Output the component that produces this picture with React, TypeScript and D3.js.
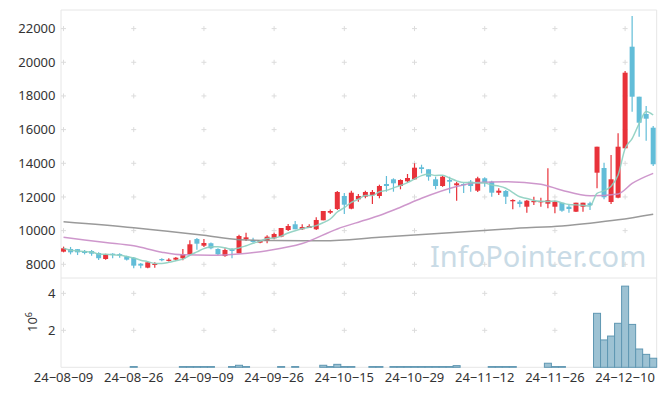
import React from 'react';
import * as d3 from 'd3';

const dates = [
  '24-08-09','24-08-12','24-08-13','24-08-14','24-08-16','24-08-19','24-08-20','24-08-21','24-08-22','24-08-23',
  '24-08-26','24-08-27','24-08-28','24-08-29','24-08-30','24-09-02','24-09-03','24-09-04','24-09-05','24-09-06',
  '24-09-09','24-09-10','24-09-11','24-09-12','24-09-13','24-09-19','24-09-20','24-09-23','24-09-24','24-09-25',
  '24-09-26','24-09-27','24-09-30','24-10-02','24-10-04','24-10-07','24-10-08','24-10-10','24-10-11','24-10-14',
  '24-10-15','24-10-16','24-10-17','24-10-18','24-10-21','24-10-22','24-10-23','24-10-24','24-10-25','24-10-28',
  '24-10-29','24-10-30','24-10-31','24-11-01','24-11-04','24-11-05','24-11-06','24-11-07','24-11-08','24-11-11',
  '24-11-12','24-11-13','24-11-14','24-11-15','24-11-18','24-11-19','24-11-20','24-11-21','24-11-22','24-11-25',
  '24-11-26','24-11-27','24-11-28','24-11-29','24-12-02','24-12-03','24-12-04','24-12-05','24-12-06','24-12-09',
  '24-12-10','24-12-11','24-12-12','24-12-13','24-12-16'
];

const opens = [
  8750,8910,8900,8790,8790,8670,8315,8630,8600,8475,
  8390,8035,7800,7960,8315,8200,8275,8356,8594,9500,
  9105,9250,8910,8490,8890,8653,9485,9440,9283,9384,
  9545,9640,10037,10376,10080,10156,10080,10614,11066,11285,
  12057,11303,11861,12015,12100,12057,12770,13049,12651,12930,
  13049,13762,13643,13049,12651,13007,12693,12770,12906,12372,
  13108,12906,12253,12354,11742,11718,11421,11700,11680,11600,
  11421,11659,11421,11124,11421,11623,13441,13720,11700,11956,
  14890,20925,17955,16928,16114
];
const highs = [
  9050,9030,8910,8850,8850,8710,8630,8650,8650,8510,
  8430,8080,8160,8120,8360,8360,8430,8910,9426,9560,
  9500,9300,8950,8950,8950,9758,9877,9580,9443,9720,
  9877,10156,10394,10572,10376,10376,10790,11166,11250,12354,
  12235,12370,12176,12372,12413,12728,13245,13108,13049,13364,
  14000,13916,13643,13203,13250,13203,12906,12811,13007,13200,
  13168,12966,12514,12413,11861,11820,11820,12015,11956,13702,
  11778,11659,11522,11659,11659,11718,14985,14035,14492,15781,
  19482,22749,17955,17403,16215
];
const lows = [
  8710,8590,8550,8590,8510,8255,8270,8360,8390,8230,
  7760,7760,7760,7800,8180,8160,8230,8240,8550,8867,
  9030,8890,8550,8450,8356,8653,9384,9283,9250,9250,
  9485,9600,9980,10080,10037,10156,10037,10614,10990,11225,
  10988,11267,11718,11920,11582,11920,12312,12312,12455,12847,
  13007,13405,12966,12455,12600,12217,11778,12235,12312,12300,
  12610,12015,12116,11582,11267,11386,11065,11522,11421,11326,
  11030,11124,11065,11107,11124,11225,12514,11861,11582,11920,
  14890,17064,15580,15342,13840
];
const closes = [
  8950,8710,8710,8670,8630,8360,8590,8550,8550,8275,
  7920,7920,8120,8035,8240,8275,8390,8594,9188,9224,
  9265,8950,8594,8850,8790,9680,9600,9325,9443,9640,
  9800,10156,10275,10080,10216,10275,10632,11166,11166,12295,
  11540,12253,12057,12295,12295,12651,12651,12811,13007,13126,
  13738,13661,13203,12651,13203,12906,12811,12693,12651,13108,
  12847,12253,12372,12015,11820,11582,11778,11760,11760,11802,
  11718,11184,11285,11659,11659,11505,14985,11980,13049,14985,
  19381,17955,16411,16649,13940
];
const volumes = [
  0,0,0,0,0,0,0,0,0,0,
  40000,0,0,0,0,0,0,40000,40000,40000,
  40000,40000,0,0,40000,110000,40000,0,0,0,
  0,40000,0,40000,0,0,0,110000,40000,160000,
  40000,40000,0,0,40000,40000,0,40000,40000,40000,
  40000,40000,40000,40000,40000,40000,90000,0,0,0,
  0,40000,40000,40000,40000,0,0,0,0,220000,
  40000,40000,0,0,0,0,2920000,1480000,1690000,2380000,
  4390000,2320000,990000,700000,490000
];

// moving averages (index, value)
const ma20Index = [0, 6, 10, 14, 17, 21, 25, 29, 34, 39, 43, 45, 48, 51, 56, 59, 63, 68, 71, 75, 79, 81, 84];
const ma20Value = [9600, 9300, 9100, 8720, 8560, 8540, 8615, 8810, 9230, 10100, 10630, 10900, 11390, 11920, 12620, 12860, 12910, 12760, 12400, 12070, 12180, 12800, 13400];
const ma60Index = [0, 10, 20, 25, 30, 37, 45, 55, 65, 71, 75, 79, 84];
const ma60Value = [10530, 10175, 9720, 9460, 9410, 9400, 9600, 9870, 10150, 10280, 10440, 10640, 10975];

const priceTicks = [8000, 10000, 12000, 14000, 16000, 18000, 20000, 22000];
const volTicks = [2000000, 4000000];
const volTickLabels = ['2', '4'];
const tickEvery = 10;

const W = 665, H = 396;
const left = 61, right = 656.7, top = 10, mid = 278, bottom = 367.3;
const FONT = '"Noto Sans", "Open Sans", sans-serif';

export default function App() {
  const n = dates.length;
  const x = d3.scaleLinear().domain([-0.36, n - 0.5]).range([left, right]);
  const step = x(1) - x(0);
  const y = d3.scaleLinear().domain([7186, 23105]).range([mid, top]);
  const yv = d3.scaleLinear().domain([0, 4830000]).range([bottom, mid]);

  const ma5 = closes.map((_, i) => {
    const s = closes.slice(Math.max(0, i - 4), i + 1);
    return d3.mean(s) as number;
  });

  const lineIdx = d3.line<number>().x((_, i) => x(i)).y(v => y(v)).curve(d3.curveMonotoneX);
  const ptsLine = d3.line<[number, number]>().x(d => x(d[0])).y(d => y(d[1])).curve(d3.curveMonotoneX);
  const ma20Pts = ma20Index.map((k, j) => [k, ma20Value[j]] as [number, number]);
  const ma60Pts = ma60Index.map((k, j) => [k, ma60Value[j]] as [number, number]);

  const tickIdx = d3.range(0, n, tickEvery);
  const gridColor = '#dcdcdc';
  const cross = (cx: number, cy: number, key: string) => (
    <g key={key} stroke={gridColor} strokeWidth={1}>
      <line x1={cx - 2.5} x2={cx + 2.5} y1={cy} y2={cy} />
      <line x1={cx} x2={cx} y1={cy - 2.5} y2={cy + 2.5} />
    </g>
  );

  const up = '#e8323a';
  const down = '#62bdd8';
  const bodyW = 5;

  return (
    <svg width={W} height={H} style={{ position: 'absolute', left: 0, top: 0, background: '#fff' }} fontFamily={FONT}>
      {/* frame */}
      <g stroke="#e6e6e6" strokeWidth={1} fill="none">
        <line x1={left} x2={right} y1={top} y2={top} />
        <line x1={left} x2={right} y1={mid} y2={mid} />
        <line x1={left} x2={right} y1={bottom} y2={bottom} />
        <line x1={left} x2={left} y1={top} y2={bottom} />
        <line x1={right} x2={right} y1={top} y2={bottom} />
      </g>
      {/* grid crosses */}
      {tickIdx.map(i => priceTicks.map(p => cross(x(i), y(p), `p${i}-${p}`)))}
      {tickIdx.map(i => volTicks.map(v => cross(x(i), yv(v), `v${i}-${v}`)))}

      {/* watermark */}
      <text x={430} y={267} fontSize={29} fill="#c9dbe6">InfoPointer.com</text>

      {/* price axis labels */}
      {priceTicks.map(p => (
        <text key={p} x={55.5} y={y(p)} dy="0.35em" textAnchor="end" fontSize={13} fill="#333">{p}</text>
      ))}
      {volTicks.map((v, j) => (
        <text key={v} x={55.5} y={yv(v)} dy="0.35em" textAnchor="end" fontSize={13} fill="#333">{volTickLabels[j]}</text>
      ))}
      <text transform="translate(37,332) rotate(-90)" fontSize={13} fill="#333">
        10<tspan dy={-5} fontSize={9}>6</tspan>
      </text>

      {/* x axis labels */}
      {tickIdx.map(i => (
        <text key={i} x={x(i)} y={382} textAnchor="middle" fontSize={13} fill="#333">{dates[i].replace(/-/g, '\u2212')}</text>
      ))}

      {/* volume bars */}
      {volumes.map((v, i) => v > 0 ? (
        <rect key={i} x={x(i) - step / 2} width={step} y={yv(v)} height={bottom - yv(v)}
          fill="#9dc2d3" stroke="#5f97b2" strokeWidth={1} />
      ) : null)}

      {/* candles */}
      {closes.map((c, i) => {
        const o = opens[i];
        const col = c >= o ? up : down;
        const yt = y(Math.max(o, c));
        const yb = y(Math.min(o, c));
        return (
          <g key={i}>
            <line x1={x(i)} x2={x(i)} y1={y(highs[i])} y2={y(lows[i])} stroke={col} strokeWidth={1.2} />
            <rect x={x(i) - bodyW / 2} width={bodyW} y={yt} height={Math.max(1.2, yb - yt)} fill={col} />
          </g>
        );
      })}

      {/* moving averages */}
      <path d={ptsLine(ma60Pts) as string} fill="none" stroke="#8f8f8f" strokeWidth={1.5} opacity={0.9} />
      <path d={ptsLine(ma20Pts) as string} fill="none" stroke="#c98cc6" strokeWidth={1.5} opacity={0.9} />
      <path d={lineIdx(ma5) as string} fill="none" stroke="#8ccfc0" strokeWidth={1.5} opacity={0.9} />
    </svg>
  );
}
